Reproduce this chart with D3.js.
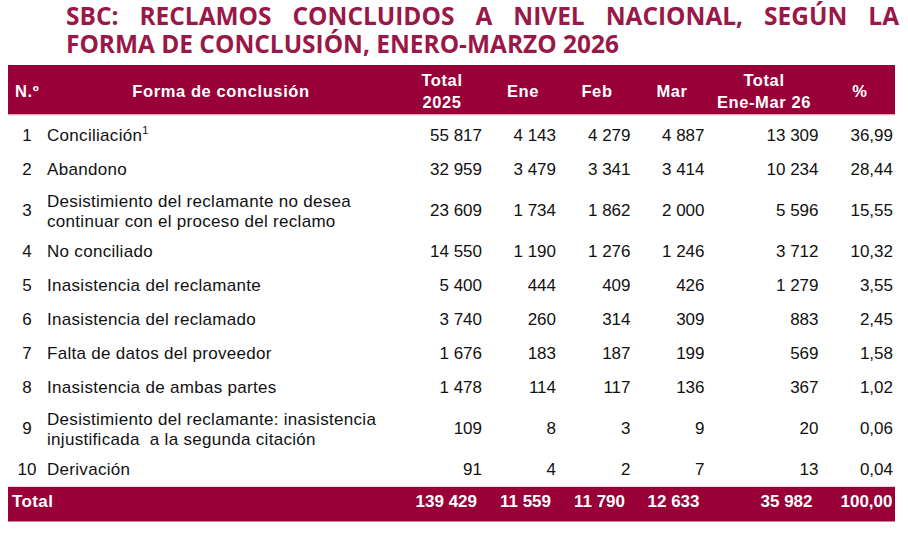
<!DOCTYPE html>
<html><head><meta charset="utf-8">
<script src="https://cdn.jsdelivr.net/npm/d3@7/dist/d3.min.js"></script>
<style>
html,body{margin:0;padding:0;background:#fff;}
svg{display:block;}
</style></head>
<body>
<svg id="c" width="908" height="535"></svg>
<script>
const titleLines = ["SBC: RECLAMOS CONCLUIDOS A NIVEL NACIONAL, SEGÚN LA", "FORMA DE CONCLUSIÓN, ENERO-MARZO 2026"];
const headers = [["N.º"], ["Forma de conclusión"], ["Total", "2025"], ["Ene"], ["Feb"], ["Mar"], ["Total", "Ene-Mar 26"], ["%"]];
const nums = [1, 2, 3, 4, 5, 6, 7, 8, 9, 10];
const labels = [
  ["Conciliación"],
  ["Abandono"],
  ["Desistimiento del reclamante no desea", "continuar con el proceso del reclamo"],
  ["No conciliado"],
  ["Inasistencia del reclamante"],
  ["Inasistencia del reclamado"],
  ["Falta de datos del proveedor"],
  ["Inasistencia de ambas partes"],
  ["Desistimiento del reclamante: inasistencia", "injustificada  a la segunda citación"],
  ["Derivación"]
];
const footnoteRow = 0;
const total2025 = [55817, 32959, 23609, 14550, 5400, 3740, 1676, 1478, 109, 91];
const ene = [4143, 3479, 1734, 1190, 444, 260, 183, 114, 8, 4];
const feb = [4279, 3341, 1862, 1276, 409, 314, 187, 117, 3, 2];
const mar = [4887, 3414, 2000, 1246, 426, 309, 199, 136, 9, 7];
const totalQ = [13309, 10234, 5596, 3712, 1279, 883, 569, 367, 20, 13];
const pct = [36.99, 28.44, 15.55, 10.32, 3.55, 2.45, 1.58, 1.02, 0.06, 0.04];
const totalLabel = "Total";
const totalRow = [139429, 11559, 11790, 12633, 35982, 100.00];

const svg = d3.select("#c");
const maroon = "#990037";
const titleColor = "#9a1848";

const fmtInt = v => d3.format(",d")(v).replace(/,/g, " ");
const fmtPct = v => d3.format(".2f")(v).replace(".", ",");

// ---- Title: one text element, first line justified word by word ----
const tg = svg.append("g").attr("font-family", "'Open Sans', sans-serif").attr("font-weight", 700).attr("fill", titleColor);
const tLeft = 66, tRight1 = 899, tRight2 = 619;
let fs = 21;
const probe = tg.append("text").attr("font-size", fs).text(titleLines[1]);
const w2 = probe.node().getComputedTextLength();
fs = fs * (tRight2 - tLeft) / w2;
probe.remove();
const titleBase = [24.5, 53];
{
  const words = titleLines[0].split(" ");
  const widths = words.map(w => {
    const t = tg.append("text").attr("font-size", fs).text(w);
    const l = t.node().getComputedTextLength(); t.remove(); return l;
  });
  const sum = d3.sum(widths);
  const gap = (tRight1 - tLeft - sum) / (words.length - 1);
  const title = tg.append("text").attr("font-size", fs);
  let x = tLeft;
  words.forEach((w, i) => {
    title.append("tspan").attr("x", x).attr("y", titleBase[0]).text(w);
    x += widths[i] + gap;
  });
  title.append("tspan").attr("x", tLeft).attr("y", titleBase[1]).text(titleLines[1]);
}

// ---- Table geometry ----
const tableLeft = 8, tableRight = 895;
const headTop = 65, headBottom = 114.5;
const colKeys = ["n", "label", "t25", "ene", "feb", "mar", "tq", "pct"];
const headerX = d3.scaleOrdinal().domain(colKeys).range([15, 221, 442, 523, 597, 672, 764, 860]);
const headerAnchor = d3.scaleOrdinal().domain(colKeys).range(["start", "middle", "middle", "middle", "middle", "middle", "middle", "middle"]);
const bodyX = d3.scaleOrdinal().domain(colKeys).range([27, 47, 482, 556, 630.5, 704.5, 818.5, 893]);
const totalX = d3.scaleOrdinal().domain(colKeys.slice(2)).range([477, 551, 625, 699.5, 812.5, 892.5]);

svg.append("rect").attr("x", tableLeft).attr("y", headTop).attr("width", tableRight - tableLeft).attr("height", headBottom - headTop).attr("fill", maroon);
svg.append("line").attr("x1", tableLeft).attr("x2", tableRight).attr("y1", headBottom + 0.5).attr("y2", headBottom + 0.5).attr("stroke", "#f2d3df").attr("stroke-width", 1);

const hg = svg.append("g").attr("font-family", "'Liberation Sans', Arial, sans-serif").attr("font-weight", 700).attr("font-size", 16.5).attr("fill", "#fff").attr("letter-spacing", 0.6);
headers.forEach((h, i) => {
  const k = colKeys[i];
  const bases = h.length === 1 ? [96.5] : [86, 107.5];
  h.forEach((line, j) => {
    hg.append("text").attr("x", headerX(k)).attr("y", bases[j]).attr("text-anchor", headerAnchor(k)).text(line);
  });
});

const singleH = 34, doubleH = 48;
const rowH = labels.map(l => l.length === 1 ? singleH : doubleH);
const baselines = [];
rowH.forEach((h, i) => {
  if (i === 0) baselines.push(141);
  else baselines.push(baselines[i - 1] + (rowH[i - 1] + h) / 2);
});
const rowY = d3.scaleOrdinal().domain(nums).range(baselines);

const bg = svg.append("g").attr("font-family", "'Liberation Sans', Arial, sans-serif").attr("font-size", 17).attr("fill", "#111");
nums.forEach((n, i) => {
  const y = rowY(n);
  bg.append("text").attr("x", bodyX("n")).attr("y", y).attr("text-anchor", "middle").text(n);
  const lab = labels[i];
  const lg = bg.append("g").attr("letter-spacing", 0.3);
  if (lab.length === 1) {
    const t = lg.append("text").attr("x", bodyX("label")).attr("y", y).text(lab[0]);
    if (i === footnoteRow) {
      t.append("tspan").attr("font-size", 11).attr("dy", -7).text("1");
    }
  } else {
    lg.append("text").attr("x", bodyX("label")).attr("y", y - 9).text(lab[0]);
    lg.append("text").attr("x", bodyX("label")).attr("y", y + 11).style("white-space", "pre").text(lab[1]);
  }
  const vals = [fmtInt(total2025[i]), fmtInt(ene[i]), fmtInt(feb[i]), fmtInt(mar[i]), fmtInt(totalQ[i]), fmtPct(pct[i])];
  vals.forEach((v, j) => {
    bg.append("text").attr("x", bodyX(colKeys[j + 2])).attr("y", y).attr("text-anchor", "end").text(v);
  });
});

const totTop = 487, totBottom = 521.5;
svg.append("rect").attr("x", tableLeft).attr("y", totTop).attr("width", tableRight - tableLeft).attr("height", totBottom - totTop).attr("fill", maroon);
svg.append("line").attr("x1", tableLeft).attr("x2", tableRight).attr("y1", totTop - 0.5).attr("y2", totTop - 0.5).attr("stroke", "#f2d3df").attr("stroke-width", 1);
const fg = svg.append("g").attr("font-family", "'Liberation Sans', Arial, sans-serif").attr("font-weight", 700).attr("font-size", 17).attr("fill", "#fff");
fg.append("text").attr("x", 12).attr("y", 507).attr("letter-spacing", 0.4).text(totalLabel);
totalRow.forEach((v, j) => {
  const k = colKeys[j + 2];
  fg.append("text").attr("x", totalX(k)).attr("y", 507).attr("text-anchor", "end").text(k === "pct" ? fmtPct(v) : fmtInt(v));
});
</script>
</body></html>
